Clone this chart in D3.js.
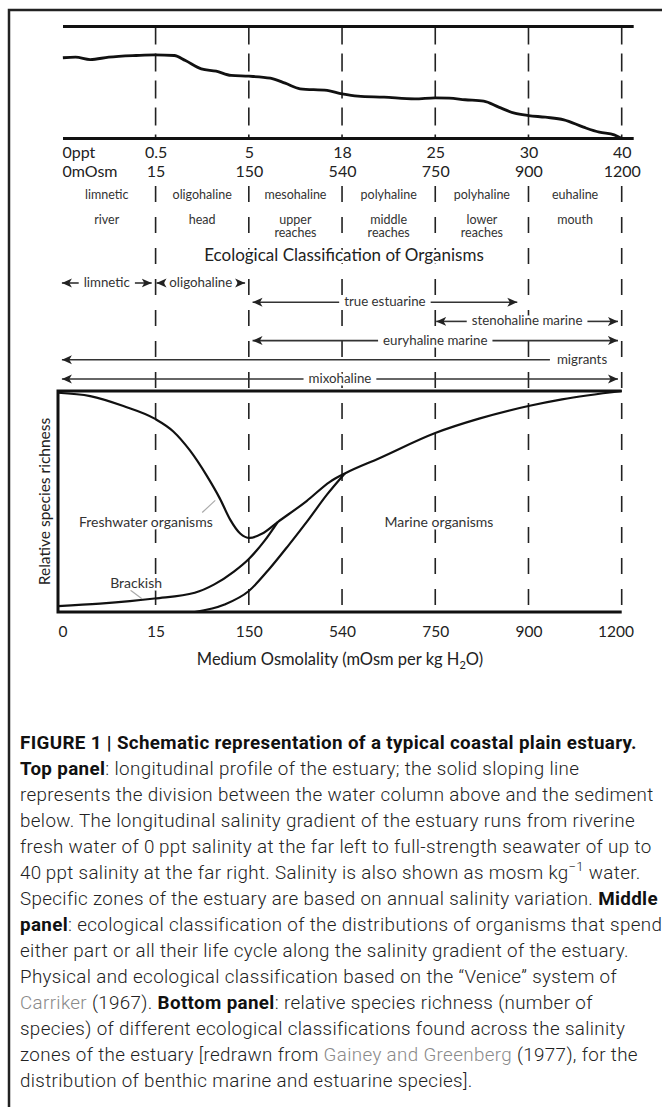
<!DOCTYPE html>
<html>
<head>
<meta charset="utf-8">
<script src="https://cdn.jsdelivr.net/npm/d3@7"></script>
<style>
  body { margin: 0; background: #fff; }
  svg { display: block; }
  .lbl { font-family: Lato, "Open Sans", sans-serif; fill: #333; }
  .halo { stroke: #fff; stroke-width: 5px; paint-order: stroke; stroke-linejoin: round; }
  .cap { font-family: Roboto, "Liberation Sans", sans-serif; font-weight: 300; fill: #222; letter-spacing: 0.35px; }
</style>
</head>
<body>
<div id="chart"></div>
<script>
// zone boundaries are drawn equally spaced, index 0..6
const pptTicks  = ["0ppt", "0.5", "5", "18", "25", "30", "40"];
const mosmTicks = ["0mOsm", "15", "150", "540", "750", "900", "1200"];
const osmTicks  = ["0", "15", "150", "540", "750", "900", "1200"];
const zoneNames = ["limnetic", "oligohaline", "mesohaline", "polyhaline", "polyhaline", "euhaline"];
const zoneParts = [["river"], ["head"], ["upper", "reaches"], ["middle", "reaches"], ["lower", "reaches"], ["mouth"]];

// top panel: sediment surface, [zone position, height above the bottom line 0-100]
const profile = [
  [0.05, 72.1], [0.18, 72.6], [0.33, 70.5], [0.52, 72.6], [0.80, 74.1], [0.99, 74.7],
  [1.20, 74.1], [1.32, 69.6], [1.49, 62.2], [1.65, 60.1], [1.81, 56.3], [2.00, 55.6],
  [2.23, 53.8], [2.39, 49.4], [2.55, 44.4], [2.84, 42.9], [3.00, 39.9], [3.17, 37.8],
  [3.45, 36.9], [3.78, 35.4], [4.00, 36.3], [4.15, 36.0], [4.32, 34.6], [4.52, 33.3],
  [4.68, 28.0], [4.85, 22.6], [5.00, 20.5], [5.18, 19.0], [5.38, 16.7], [5.59, 10.1],
  [5.76, 5.6], [5.92, 3.3], [6.00, 0]
];

// middle panel: ecological classification arrows
const classNames = ["limnetic", "oligohaline", "true estuarine", "stenohaline marine",
                    "euryhaline marine", "migrants", "mixohaline"];
const classRow   = [0, 0, 1, 2, 3, 4, 5];
const classFrom  = [0.04, 1.01, 2.04, 4.01, 2.04, 0.04, 0.04];
const classTo    = [0.96, 1.96, 4.88, 5.96, 5.96, 5.23, 5.96];
const classEndHead = [true, true, true, true, true, false, true];

// bottom panel: relative species richness, [zone position, richness 0-100]
const freshwater = [
  [0, 99.2], [0.33, 97.7], [0.67, 93.2], [0.99, 87.5], [1.19, 81.7], [1.37, 73.0],
  [1.55, 61.6], [1.69, 51.3], [1.80, 41.8], [1.91, 35.4], [2.01, 33.5], [2.14, 35.4],
  [2.31, 40.7], [2.62, 50.2], [2.87, 58.9], [3.03, 62.7]
];
const marine = [
  [3.03, 62.7], [3.40, 69.6], [4.00, 81.0], [4.47, 87.5], [5.00, 93.2], [5.36, 96.2], [6.00, 100]
];
const brackish = [
  [0, 2.7], [0.43, 3.8], [0.99, 6.1], [1.42, 8.7], [1.63, 12.5], [1.84, 18.3],
  [2.00, 24.0], [2.17, 32.3], [2.31, 40.7]
];
const marineLower = [
  [1.42, 0], [1.74, 3.4], [2.00, 9.5], [2.21, 19.0], [2.43, 30.4], [2.64, 41.8],
  [2.84, 53.2], [3.03, 62.7]
];

const captionLines = [
  [["FIGURE 1 | Schematic representation of a typical coastal plain estuary.", "b"]],
  [["Top panel", "b"], [": longitudinal profile of the estuary; the solid sloping line", ""]],
  [["represents the division between the water column above and the sediment", ""]],
  [["below. The longitudinal salinity gradient of the estuary runs from riverine", ""]],
  [["fresh water of 0\u2009ppt salinity at the far left to full-strength seawater of up to", ""]],
  [["40\u2009ppt salinity at the far right. Salinity is also shown as mosm kg", ""], ["\u22121", "sup"], [" water.", ""]],
  [["Specific zones of the estuary are based on annual salinity variation. ", ""], ["Middle", "b"]],
  [["panel", "b"], [": ecological classification of the distributions of organisms that spend", ""]],
  [["either part or all their life cycle along the salinity gradient of the estuary.", ""]],
  [["Physical and ecological classification based on the \u201cVenice\u201d system of", ""]],
  [["Carriker", "link"], [" (1967). ", ""], ["Bottom panel", "b"], [": relative species richness (number of", ""]],
  [["species) of different ecological classifications found across the salinity", ""]],
  [["zones of the estuary [redrawn from ", ""], ["Gainey and Greenberg", "link"], [" (1977), for the", ""]],
  [["distribution of benthic marine and estuarine species].", ""]]
];

const width = 662;
const height = 1107;

// layout
const topLineY = 26.5;
const topAxisY = 138.5;
const botTopY = 391;
const botAxisY = 612;

const svg = d3.select("#chart").append("svg")
  .attr("width", width)
  .attr("height", height);

// zone position -> x (first zone is drawn a bit wider)
const x = d3.scaleLinear().domain([0, 1, 6]).range([58, 155.6, 621.7]);
const yTop = d3.scaleLinear().domain([0, 100]).range([topAxisY, topLineY]);
const yBot = d3.scaleLinear().domain([0, 100]).range([botAxisY, botTopY]);
const rowY = d3.scaleLinear().domain([0, 5]).range([283, 379]);

// frame
svg.append("rect")
  .attr("x", 9).attr("y", 10)
  .attr("width", 800).attr("height", 1300)
  .attr("fill", "none").attr("stroke", "#222").attr("stroke-width", 2.5);

// dashed zone boundaries
const bounds = d3.range(1, 7);
svg.append("g").selectAll("line").data(bounds).join("line")
  .attr("x1", d => x(d)).attr("x2", d => x(d))
  .attr("y1", topLineY).attr("y2", topAxisY)
  .attr("stroke", "#222").attr("stroke-width", 1.6)
  .attr("stroke-dasharray", "18,9");
svg.append("g").selectAll("line").data(bounds).join("line")
  .attr("x1", d => x(d)).attr("x2", d => x(d))
  .attr("y1", 186).attr("y2", botAxisY)
  .attr("stroke", "#222").attr("stroke-width", 1.6)
  .attr("stroke-dasharray", "16,15");

// ---- top panel ----
[topLineY, topAxisY].forEach(yy => {
  svg.append("line")
    .attr("x1", x(0) + 5).attr("x2", x(6) + 12)
    .attr("y1", yy).attr("y2", yy)
    .attr("stroke", "#111").attr("stroke-width", 3);
});

svg.append("path")
  .datum(profile)
  .attr("fill", "none").attr("stroke", "#111").attr("stroke-width", 2.8)
  .attr("d", d3.line().x(d => x(d[0])).y(d => yTop(d[1])).curve(d3.curveMonotoneX));

// salinity / osmolality rows
function tickRow(labels, y, size) {
  const g = svg.append("g")
    .attr("transform", `translate(0, ${y})`)
    .call(d3.axisBottom(x).tickValues(d3.range(7)).tickFormat(i => labels[i]).tickSize(0).tickPadding(0));
  g.select(".domain").remove();
  g.selectAll("text")
    .attr("class", "lbl halo")
    .attr("dy", 0)
    .style("font-size", size + "px")
    .style("fill", "#222");
  g.select(".tick text").attr("text-anchor", "start").attr("dx", 4);
  return g;
}
tickRow(pptTicks, 158, 16);
tickRow(mosmTicks, 176.5, 16);

const zoneMid = i => (x(i) + x(i + 1)) / 2;
svg.append("g").selectAll("text").data(zoneNames).join("text")
  .attr("class", "lbl")
  .attr("x", (d, i) => zoneMid(i)).attr("y", 199)
  .attr("text-anchor", "middle").style("font-size", "12.5px")
  .text(d => d);
zoneParts.forEach((parts, i) => {
  parts.forEach((p, j) => {
    svg.append("text").attr("class", "lbl")
      .attr("x", zoneMid(i)).attr("y", 224 + j * 13)
      .attr("text-anchor", "middle").style("font-size", "12.5px")
      .text(p);
  });
});

svg.append("text").attr("class", "lbl halo")
  .attr("x", 344).attr("y", 261)
  .attr("text-anchor", "middle").style("font-size", "17px").style("fill", "#222")
  .text("Ecological Classification of Organisms");

// ---- middle panel: arrows ----
svg.append("defs").append("marker")
  .attr("id", "head")
  .attr("viewBox", "0 -5 10 10")
  .attr("refX", 10).attr("refY", 0)
  .attr("markerWidth", 10).attr("markerHeight", 10)
  .attr("markerUnits", "userSpaceOnUse")
  .attr("orient", "auto-start-reverse")
  .append("path")
  .attr("d", "M0,-4.5L10,0L0,4.5L2.6,0Z")
  .attr("fill", "#222");

const arrows = svg.append("g");
classNames.forEach((name, i) => {
  const y = rowY(classRow[i]);
  const x1 = x(classFrom[i]);
  const x2 = x(classTo[i]);
  const seg = (a, b, start, end) => arrows.append("line")
    .attr("x1", a).attr("x2", b).attr("y1", y).attr("y2", y)
    .attr("stroke", "#333").attr("stroke-width", 1.6)
    .attr("marker-start", start ? "url(#head)" : null)
    .attr("marker-end", end ? "url(#head)" : null);

  if (!classEndHead[i]) {
    seg(x1, x2, true, false);
    arrows.append("text").attr("class", "lbl halo")
      .attr("x", x2 + 7).attr("y", y + 4)
      .style("font-size", "13.3px").text(name);
    return;
  }
  const cx = (x1 + x2) / 2;
  const t = arrows.append("text").attr("class", "lbl halo")
    .attr("x", cx).attr("y", y + 4)
    .attr("text-anchor", "middle").style("font-size", "13.3px").text(name);
  const w = t.node().getComputedTextLength();
  seg(x1, cx - w / 2 - 5, true, false);
  seg(cx + w / 2 + 5, x2, false, true);
});

// ---- bottom panel ----
svg.append("path")
  .attr("d", `M${x(6)},${botTopY}H${x(0)}V${botAxisY}H${x(6)}`)
  .attr("fill", "none").attr("stroke", "#111").attr("stroke-width", 3);

const curve = d3.line().x(d => x(d[0])).y(d => yBot(d[1])).curve(d3.curveMonotoneX);
[freshwater.concat(marine.slice(1)), brackish, marineLower].forEach(s => {
  svg.append("path").datum(s)
    .attr("fill", "none").attr("stroke", "#111").attr("stroke-width", 2.2)
    .attr("d", curve);
});

// leader lines
svg.append("line")
  .attr("x1", x(1.50)).attr("y1", yBot(45)).attr("x2", x(1.64)).attr("y2", yBot(50.5))
  .attr("stroke", "#aaa").attr("stroke-width", 1.2);
svg.append("line")
  .attr("x1", x(0.74)).attr("y1", yBot(10)).attr("x2", x(0.86)).attr("y2", yBot(6))
  .attr("stroke", "#aaa").attr("stroke-width", 1.2);

svg.append("text").attr("class", "lbl halo")
  .attr("x", x(0.9)).attr("y", yBot(40.5) + 5)
  .attr("text-anchor", "middle").style("font-size", "14px")
  .text("Freshwater organisms");
svg.append("text").attr("class", "lbl halo")
  .attr("x", x(0.8)).attr("y", yBot(13) + 5)
  .attr("text-anchor", "middle").style("font-size", "14px")
  .text("Brackish");
svg.append("text").attr("class", "lbl halo")
  .attr("x", x(4.04)).attr("y", yBot(40.5) + 5)
  .attr("text-anchor", "middle").style("font-size", "14px")
  .text("Marine organisms");

const xAxis = svg.append("g")
  .attr("transform", `translate(0, ${botAxisY})`)
  .call(d3.axisBottom(x).tickValues(d3.range(7)).tickFormat(i => osmTicks[i]).tickSize(0).tickPadding(14));
xAxis.select(".domain").remove();
xAxis.selectAll("text").attr("class", "lbl").style("font-size", "15.5px").style("fill", "#222");
xAxis.select(".tick text").attr("text-anchor", "start");
xAxis.select(".tick:last-of-type text").attr("dx", "-0.4em");

const xt = svg.append("text").attr("class", "lbl")
  .attr("x", 340).attr("y", 665)
  .attr("text-anchor", "middle").style("font-size", "16.5px").style("fill", "#222");
xt.append("tspan").text("Medium Osmolality (mOsm per kg H");
xt.append("tspan").attr("dy", 4).style("font-size", "11px").text("2");
xt.append("tspan").attr("dy", -4).text("O)");

svg.append("text").attr("class", "lbl")
  .attr("transform", `translate(50, ${(botTopY + botAxisY) / 2}) rotate(-90)`)
  .attr("text-anchor", "middle").style("font-size", "15.5px").style("fill", "#222")
  .text("Relative species richness");

// ---- caption ----
captionLines.forEach((parts, i) => {
  const t = svg.append("text").attr("class", "cap")
    .attr("x", 20).attr("y", 749 + i * 26)
    .style("font-size", "18.8px");
  let raised = false;
  parts.forEach(([txt, kind]) => {
    const s = t.append("tspan").text(txt);
    if (kind === "b") s.style("font-weight", 700).style("fill", "#111");
    if (kind === "link") s.style("fill", "#8a8a8a");
    if (kind === "sup") { s.attr("dy", -8).style("font-size", "13px"); raised = true; }
    else if (raised) { s.attr("dy", 8); raised = false; }
  });
});
</script>
</body>
</html>
